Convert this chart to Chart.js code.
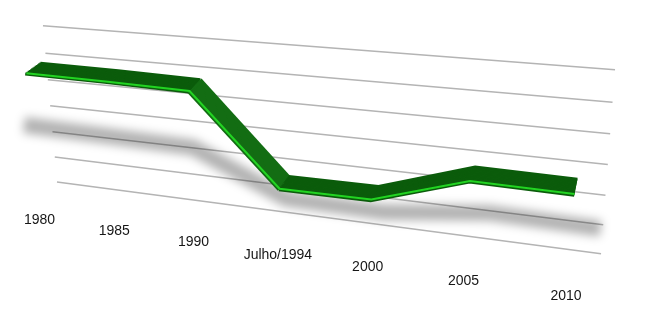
<!DOCTYPE html>
<html>
<head>
<meta charset="utf-8">
<script src="https://cdn.jsdelivr.net/npm/chart.js@4.4.1/dist/chart.umd.min.js"></script>
<style>
  html, body { margin: 0; background: #fff; }
</style>
</head>
<body>
<canvas id="grafico" width="646" height="320"></canvas>
<script>
const anos = ['1980', '1985', '1990', 'Julho/1994', '2000', '2005', '2010'];
const valores = [46, 45.8, 45.3, 13.5, 13.8, 24.5, 24.2];
const escalaMin = 0;
const escalaMax = 60;
const passo = 10;

// corner quads (top-left, top-right, bottom-right, bottom-left) of each perspective plane
const planos = {
    parede: [[43, 26], [615, 70], [601, 254], [57, 182]],
    fitaFundo: [[37, 25.5], [586, 67.8], [572, 250.2], [51, 181.2]],
    fitaFrente: [[23, 35.5], [583, 82.8], [569, 265.2], [37, 191.2]],
    sombra: [[23, 109], [603, 180], [599, 261], [27, 177]],
    rotulos: [[25.5, 64.5], [580, 110], [566, 296], [39.5, 220.5]]
};

function homografia(q) {
    const [[x0, y0], [x1, y1], [x2, y2], [x3, y3]] = q;
    const dx1 = x1 - x2, dx2 = x3 - x2, dx3 = x0 - x1 + x2 - x3;
    const dy1 = y1 - y2, dy2 = y3 - y2, dy3 = y0 - y1 + y2 - y3;
    const den = dx1 * dy2 - dx2 * dy1;
    const g = (dx3 * dy2 - dx2 * dy3) / den;
    const h = (dx1 * dy3 - dx3 * dy1) / den;
    const a = x1 - x0 + g * x1, b = x3 - x0 + h * x3, c = x0;
    const d = y1 - y0 + g * y1, e = y3 - y0 + h * y3, f = y0;
    return (u, v) => {
        const w = g * u + h * v + 1;
        return [(a * u + b * v + c) / w, (d * u + e * v + f) / w];
    };
}

function misturar(qa, qb, k) {
    return qa.map((p, i) => [p[0] + (qb[i][0] - p[0]) * k, p[1] + (qb[i][1] - p[1]) * k]);
}

let planoAtual = null;
const P = CanvasRenderingContext2D.prototype;

function instalarProjecao(chart) {
    const ctx = chart.ctx;
    if (ctx._projetado) return;
    ctx._projetado = true;
    const conv = (x, y) => {
        if (!planoAtual) return [x, y];
        const a = chart.chartArea;
        return planoAtual((x - a.left) / (a.right - a.left), (y - a.top) / (a.bottom - a.top));
    };
    ctx.moveTo = function (x, y) { const p = conv(x, y); P.moveTo.call(this, p[0], p[1]); };
    ctx.lineTo = function (x, y) { const p = conv(x, y); P.lineTo.call(this, p[0], p[1]); };
}

const perspectiva = {
    id: 'perspectiva',
    beforeDraw(chart) {
        instalarProjecao(chart);
        planoAtual = homografia(planos.parede);
    },
    beforeDatasetDraw(chart, args) {
        const ds = chart.data.datasets[args.index];
        planoAtual = homografia(planos[ds.plano]);
        if (ds.desfoque) chart.ctx.filter = 'blur(' + ds.desfoque + 'px)';
    },
    afterDatasetDraw(chart, args) {
        const ds = chart.data.datasets[args.index];
        chart.ctx.filter = 'none';
        if (ds.camadas) {
            for (let k = 1; k <= ds.camadas + 1; k++) {
                planoAtual = homografia(misturar(planos.fitaFundo, planos.fitaFrente, k / ds.camadas));
                args.meta.controller.draw();
            }
        }
        planoAtual = null;
    },
    afterDraw(chart) {
        planoAtual = null;
        const ctx = chart.ctx;
        const a = chart.chartArea;
        const xs = chart.scales.x, ys = chart.scales.y;
        const plano = homografia(planos.rotulos);
        ctx.save();
        ctx.font = '14px "Liberation Sans", Arial, sans-serif';
        ctx.fillStyle = '#161616';
        ctx.textAlign = 'center';
        ctx.textBaseline = 'middle';
        chart.data.labels.forEach((rotulo, i) => {
            const u = (xs.getPixelForValue(i) - a.left) / (a.right - a.left);
            const v = (ys.getPixelForValue(escalaMin) - a.top) / (a.bottom - a.top);
            const p = plano(u, v);
            ctx.fillText(rotulo, p[0], p[1]);
        });
        ctx.restore();
    }
};

const grafico = new Chart(document.getElementById('grafico'), {
    type: 'line',
    data: {
        labels: anos,
        datasets: [
            {
                label: 'Borda',
                data: valores,
                plano: 'fitaFrente',
                order: 1,
                borderColor: '#22d422',
                borderWidth: 2,
                borderJoinStyle: 'miter',
                pointRadius: 0,
                tension: 0,
                clip: false,
                segment: {}
            },
            {
                label: 'Fita',
                data: valores,
                plano: 'fitaFundo',
                camadas: 12,
                order: 2,
                borderColor: '#0b5c0b',
                borderWidth: 3,
                borderJoinStyle: 'miter',
                pointRadius: 0,
                tension: 0,
                clip: false,
                segment: {
                    borderColor: c => Math.abs(c.p1.parsed.y - c.p0.parsed.y) > 15 ? '#136d13' : undefined
                }
            },
            {
                label: 'Sombra',
                data: valores,
                plano: 'sombra',
                desfoque: 5,
                order: 3,
                borderColor: 'rgba(0,0,0,0.3)',
                borderWidth: 16,
                borderJoinStyle: 'round',
                pointRadius: 0,
                tension: 0,
                clip: false,
                segment: {}
            }
        ]
    },
    options: {
        responsive: false,
        animation: false,
        events: [],
        plugins: {
            legend: { display: false },
            tooltip: { enabled: false }
        },
        scales: {
            x: {
                display: false,
                offset: false
            },
            y: {
                min: escalaMin,
                max: escalaMax,
                ticks: { display: false, stepSize: passo },
                border: { display: false },
                grid: { color: '#b4b4b4', lineWidth: 1.5, drawTicks: false }
            }
        }
    },
    plugins: [perspectiva]
});
</script>
</body>
</html>
